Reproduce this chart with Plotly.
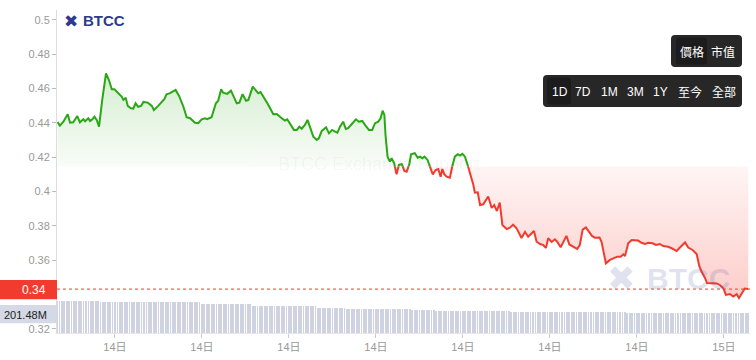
import plotly.graph_objects as go

# ---------------- data ----------------
hours = [1.02,1.10,1.22,1.37,1.45,1.56,1.70,1.79,1.91,1.97,
         2.08,2.14,2.22,2.29,2.37,2.45,2.56,2.69,2.79,2.89,
         2.98,3.11,3.23,3.29,3.37,3.44,3.55,3.63,3.71,3.80,
         3.90,3.98,4.13,4.27,4.34,4.49,4.61,4.70,4.78,4.90,
         5.09,5.21,5.36,5.47,5.59,5.67,5.76,5.87,5.99,6.10,
         6.18,6.33,6.48,6.56,6.66,6.73,6.87,7.00,7.08,7.20,
         7.29,7.40,7.52,7.60,7.75,7.86,7.94,8.02,8.14,8.29,
         8.46,8.58,8.75,8.86,8.94,9.06,9.17,9.27,9.36,9.44,
         9.55,9.64,9.75,9.84,9.96,10.03,10.13,10.28,10.38,10.49,
         10.59,10.67,10.76,10.87,10.96,11.04,11.16,11.31,11.41,11.53,
         11.64,11.76,11.87,11.97,12.08,12.16,12.23,12.29,12.33,12.40,
         12.48,12.54,12.63,12.71,12.79,12.89,12.98,13.06,13.15,13.21,
         13.34,13.44,13.52,13.60,13.67,13.78,13.86,13.96,14.06,14.15,
         14.23,14.29,14.36,14.44,14.55,14.63,14.72,14.82,14.90,14.98,
         15.07,15.18,15.28,15.36,15.41,15.51,15.59,15.70,15.87,15.99,
         16.08,16.17,16.27,16.36,16.51,16.62,16.73,16.85,17.02,17.14,
         17.25,17.37,17.45,17.54,17.66,17.77,17.86,17.94,18.06,18.17,
         18.25,18.37,18.46,18.57,18.67,18.80,18.94,19.03,19.13,19.24,
         19.36,19.45,19.55,19.71,19.78,19.84,19.93,20.07,20.21,20.32,
         20.44,20.53,20.59,20.70,20.82,20.93,21.04,21.16,21.28,21.39,
         21.54,21.66,21.79,21.91,22.08,22.20,22.37,22.51,22.66,22.77,
         22.92,23.06,23.15,23.23,23.34,23.42,23.58,23.75,23.86,23.98,
         24.07,24.21,24.32,24.44,24.52,24.61,24.72,24.84]

prices = [0.4405,0.4384,0.4407,0.4450,0.4401,0.4403,0.4440,0.4403,0.4421,0.4409,
          0.4427,0.4411,0.4421,0.4436,0.4417,0.4378,0.4534,0.4689,0.4650,0.4596,
          0.4596,0.4573,0.4553,0.4534,0.4547,0.4499,0.4485,0.4483,0.4514,0.4494,
          0.4499,0.4522,0.4518,0.4499,0.4475,0.4499,0.4518,0.4538,0.4567,0.4573,
          0.4592,0.4557,0.4494,0.4433,0.4427,0.4417,0.4401,0.4398,0.4421,0.4427,
          0.4421,0.4433,0.4514,0.4529,0.4596,0.4576,0.4569,0.4588,0.4557,0.4514,
          0.4518,0.4567,0.4529,0.4534,0.4611,0.4592,0.4573,0.4580,0.4549,0.4504,
          0.4450,0.4452,0.4427,0.4413,0.4421,0.4392,0.4359,0.4359,0.4378,0.4366,
          0.4388,0.4417,0.4369,0.4320,0.4300,0.4310,0.4353,0.4374,0.4339,0.4359,
          0.4349,0.4343,0.4378,0.4407,0.4364,0.4369,0.4392,0.4421,0.4407,0.4411,
          0.4384,0.4359,0.4359,0.4398,0.4407,0.4427,0.4471,0.4446,0.4329,0.4203,
          0.4174,0.4194,0.4164,0.4100,0.4155,0.4159,0.4120,0.4115,0.4159,0.4217,
          0.4223,0.4197,0.4203,0.4194,0.4203,0.4184,0.4145,0.4100,0.4125,0.4131,
          0.4086,0.4131,0.4100,0.4086,0.4080,0.4145,0.4203,0.4217,0.4209,0.4219,
          0.4203,0.4145,0.4096,0.4038,0.3993,0.3995,0.3921,0.3925,0.3971,0.3904,
          0.3921,0.3886,0.3935,0.3805,0.3781,0.3789,0.3806,0.3785,0.3729,0.3764,
          0.3736,0.3758,0.3770,0.3707,0.3694,0.3688,0.3671,0.3727,0.3706,0.3721,
          0.3707,0.3675,0.3701,0.3741,0.3691,0.3678,0.3665,0.3688,0.3778,0.3791,
          0.3764,0.3741,0.3731,0.3732,0.3707,0.3659,0.3581,0.3601,0.3610,0.3620,
          0.3620,0.3634,0.3624,0.3698,0.3717,0.3714,0.3714,0.3701,0.3694,0.3701,
          0.3698,0.3688,0.3694,0.3682,0.3678,0.3669,0.3653,0.3678,0.3703,0.3673,
          0.3659,0.3636,0.3566,0.3532,0.3499,0.3466,0.3464,0.3464,0.3455,0.3436,
          0.3397,0.3402,0.3388,0.3402,0.3379,0.3405,0.3434,0.3431]

baseline_price = 0.4146
current_price_label = "0.34"
current_volume_label = "201.48M"

# volume (millions), one bar per 5 minutes, read as level / bar-count runs
vol_levels = [330, 322, 312, 297, 276, 259, 246, 235, 225, 217, 201.48]
vol_counts = [18, 21, 21, 21, 27, 12, 27, 10, 31, 48, 51]
vol_start_hour = 1.0
vol_step_hour = 5 / 60

tick_hours = [3, 6, 9, 12, 15, 18, 21, 24]
tick_labels = ["14日", "14日", "14日", "14日", "14日", "14日", "14日", "15日"]
# the 0.34 tick label is hidden behind the current-price tag in the picture
y_ticks = [0.32, 0.36, 0.38, 0.40, 0.42, 0.44, 0.46, 0.48, 0.50]
y_tick_labels = ["0.32", "0.36", "0.38", "0.4", "0.42", "0.44", "0.46", "0.48", "0.5"]

metric_buttons = ["價格", "市值"]
range_buttons = ["1D", "7D", "1M", "3M", "1Y", "至今", "全部"]

# ---------------- layout geometry ----------------
W, H = 756, 360
ML, MR, MT, MB = 57, 6, 10, 27
PW, PH = W - ML - MR, H - MT - MB
Y_RANGE = [0.3175, 0.5058]
X_RANGE = [1.0, 24.9]
VOL_MAX = 3303

GREEN = "#29a814"
RED = "#f23b2f"
FONT = "Liberation Sans, Arial, Noto Sans CJK TC, sans-serif"
CJK = "Noto Sans CJK TC, Liberation Sans, sans-serif"


def PX(px):
    return (px - ML) / PW


def PY(py):
    return (H - MB - py) / PH


def rrect(x0, y0, x1, y1, r):
    return (f"M {PX(x0+r)},{PY(y0)} L {PX(x1-r)},{PY(y0)} Q {PX(x1)},{PY(y0)} {PX(x1)},{PY(y0+r)} "
            f"L {PX(x1)},{PY(y1-r)} Q {PX(x1)},{PY(y1)} {PX(x1-r)},{PY(y1)} "
            f"L {PX(x0+r)},{PY(y1)} Q {PX(x0)},{PY(y1)} {PX(x0)},{PY(y1-r)} "
            f"L {PX(x0)},{PY(y0+r)} Q {PX(x0)},{PY(y0)} {PX(x0+r)},{PY(y0)} Z")


# split the line where it crosses the baseline (render helper)
X, V = [hours[0]], [prices[0]]
b = baseline_price
for i in range(1, len(hours)):
    x0, v0, x1, v1 = hours[i-1], prices[i-1], hours[i], prices[i]
    if (v0 - b) * (v1 - b) < 0:
        t = (b - v0) / (v1 - v0)
        X.append(x0 + t * (x1 - x0))
        V.append(b)
    X.append(x1)
    V.append(v1)

above = [max(v, b) for v in V]
below = [min(v, b) for v in V]
green_line = [v if v >= b else None for v in V]
red_line = [v if v <= b else None for v in V]

vol_x, vol_y = [], []
k = 0
for lvl, cnt in zip(vol_levels, vol_counts):
    for _ in range(cnt):
        vol_x.append(vol_start_hour + k * vol_step_hour)
        vol_y.append(lvl)
        k += 1

fig = go.Figure()

fig.add_trace(go.Bar(x=vol_x, y=vol_y, yaxis="y2", width=0.028,
                     marker=dict(color="#ced2e1", line=dict(width=0)),
                     hoverinfo="skip", showlegend=False))

fig.add_trace(go.Scatter(x=X, y=[b] * len(X), mode="lines", line=dict(width=0),
                         hoverinfo="skip", showlegend=False))
fig.add_trace(go.Scatter(x=X, y=above, mode="lines", line=dict(width=0), fill="tonexty",
                         fillgradient=dict(type="vertical", start=b, stop=0.47,
                                           colorscale=[[0, "rgba(41,168,20,0.03)"], [1, "rgba(41,168,20,0.20)"]]),
                         hoverinfo="skip", showlegend=False))
fig.add_trace(go.Scatter(x=X, y=[b] * len(X), mode="lines", line=dict(width=0),
                         hoverinfo="skip", showlegend=False))
fig.add_trace(go.Scatter(x=X, y=below, mode="lines", line=dict(width=0), fill="tonexty",
                         fillgradient=dict(type="vertical", start=0.336, stop=b,
                                           colorscale=[[0, "rgba(242,59,47,0.26)"], [1, "rgba(242,59,47,0.05)"]]),
                         hoverinfo="skip", showlegend=False))
fig.add_trace(go.Scatter(x=X, y=green_line, mode="lines", line=dict(color=GREEN, width=2),
                         connectgaps=False, showlegend=False))
fig.add_trace(go.Scatter(x=X, y=red_line, mode="lines", line=dict(color=RED, width=2),
                         connectgaps=False, showlegend=False))

last = prices[-1]
shapes = [
    dict(type="line", xref="paper", yref="y", x0=0, x1=1, y0=last, y1=last,
         line=dict(color=RED, width=1, dash="dot"), layer="above"),
    # price label box
    dict(type="rect", xref="paper", yref="paper", x0=PX(0), x1=PX(57),
         y0=PY(299.3), y1=PY(280), fillcolor=RED, line=dict(width=0), layer="above"),
    # volume label box
    dict(type="rect", xref="paper", yref="paper", x0=PX(0), x1=PX(57),
         y0=PY(323.3), y1=PY(305), fillcolor="#d5d9e5", line=dict(width=0), layer="above"),
    # buttons
    dict(type="path", xref="paper", yref="paper", path=rrect(671, 35, 742, 67, 4),
         fillcolor="#272727", line=dict(width=0), layer="above"),
    dict(type="path", xref="paper", yref="paper", path=rrect(676, 37.5, 707, 64.5, 3),
         fillcolor="#1c1c1c", line=dict(width=0), layer="above"),
    dict(type="path", xref="paper", yref="paper", path=rrect(543, 75, 742, 107, 4),
         fillcolor="#272727", line=dict(width=0), layer="above"),
    dict(type="path", xref="paper", yref="paper", path=rrect(547, 77.5, 571, 104.5, 3),
         fillcolor="#1c1c1c", line=dict(width=0), layer="above"),
]

ann = []
ann.append(dict(xref="paper", yref="paper", x=PX(48), y=PY(290), xanchor="right", yanchor="middle",
                text=current_price_label, showarrow=False, font=dict(family=FONT, size=12, color="white")))
ann.append(dict(xref="paper", yref="paper", x=PX(49), y=PY(314.5), xanchor="right", yanchor="middle",
                text=current_volume_label, showarrow=False, font=dict(family=FONT, size=11, color="#222")))
for label, cx in zip(metric_buttons, [691.5, 723]):
    ann.append(dict(xref="paper", yref="paper", x=PX(cx), y=PY(51), xanchor="center", yanchor="middle",
                    text=label, showarrow=False, font=dict(family=CJK, size=12, color="white")))
for label, cx in zip(range_buttons, [559.5, 582.5, 609.5, 635.5, 660.5, 689.5, 723.5]):
    ann.append(dict(xref="paper", yref="paper", x=PX(cx), y=PY(91.5), xanchor="center", yanchor="middle",
                    text=label, showarrow=False, font=dict(family=FONT if label[0].isdigit() else CJK,
                                                          size=12, color="white")))
# logo top-left
ann.append(dict(xref="paper", yref="paper", x=PX(62), y=PY(20.5), xanchor="left", yanchor="middle",
                text="✖", showarrow=False, font=dict(family="DejaVu Sans", size=17, color="#2d3a8f")))
ann.append(dict(xref="paper", yref="paper", x=PX(81), y=PY(20.5), xanchor="left", yanchor="middle",
                text="<b>BTCC</b>", showarrow=False, font=dict(family=FONT, size=15, color="#2d3a8f")))
# watermarks
ann.append(dict(xref="paper", yref="paper", x=PX(379), y=PY(164), xanchor="center", yanchor="middle",
                text="BTCC Exchange Support", showarrow=False,
                font=dict(family=FONT, size=18, color="rgba(0,0,0,0.045)")))
ann.append(dict(xref="paper", yref="paper", x=PX(605), y=PY(278), xanchor="left", yanchor="middle",
                text="✖", showarrow=False, font=dict(family="DejaVu Sans", size=34, color="rgba(60,75,160,0.17)")))
ann.append(dict(xref="paper", yref="paper", x=PX(645), y=PY(278), xanchor="left", yanchor="middle",
                text="<b>BTCC</b>", showarrow=False, font=dict(family=FONT, size=30, color="rgba(60,75,160,0.17)")))

fig.update_layout(
    width=W, height=H, margin=dict(l=ML, r=MR, t=MT, b=MB, autoexpand=False),
    paper_bgcolor="white", plot_bgcolor="white",
    showlegend=False, bargap=0,
    font=dict(family=FONT, size=11, color="#999"),
    xaxis=dict(range=X_RANGE, tickvals=tick_hours, ticktext=tick_labels, showgrid=False, zeroline=False,
               showline=True, linecolor="#e6e6e6", ticks="outside", ticklen=4, tickcolor="#cccccc",
               tickfont=dict(family=FONT, size=11, color="#999")),
    yaxis=dict(range=Y_RANGE, tickvals=y_ticks, ticktext=y_tick_labels, showgrid=False, zeroline=False,
               showline=True, linecolor="#dddddd", ticks="outside", ticklen=4, tickcolor="#bbbbbb",
               tickfont=dict(family=FONT, size=11, color="#999")),
    yaxis2=dict(range=[0, VOL_MAX], overlaying="y", visible=False),
    shapes=shapes, annotations=ann,
)

fig.write_html("out.html", config={"displayModeBar": False},
               post_script="document.body.style.margin='0px';")
